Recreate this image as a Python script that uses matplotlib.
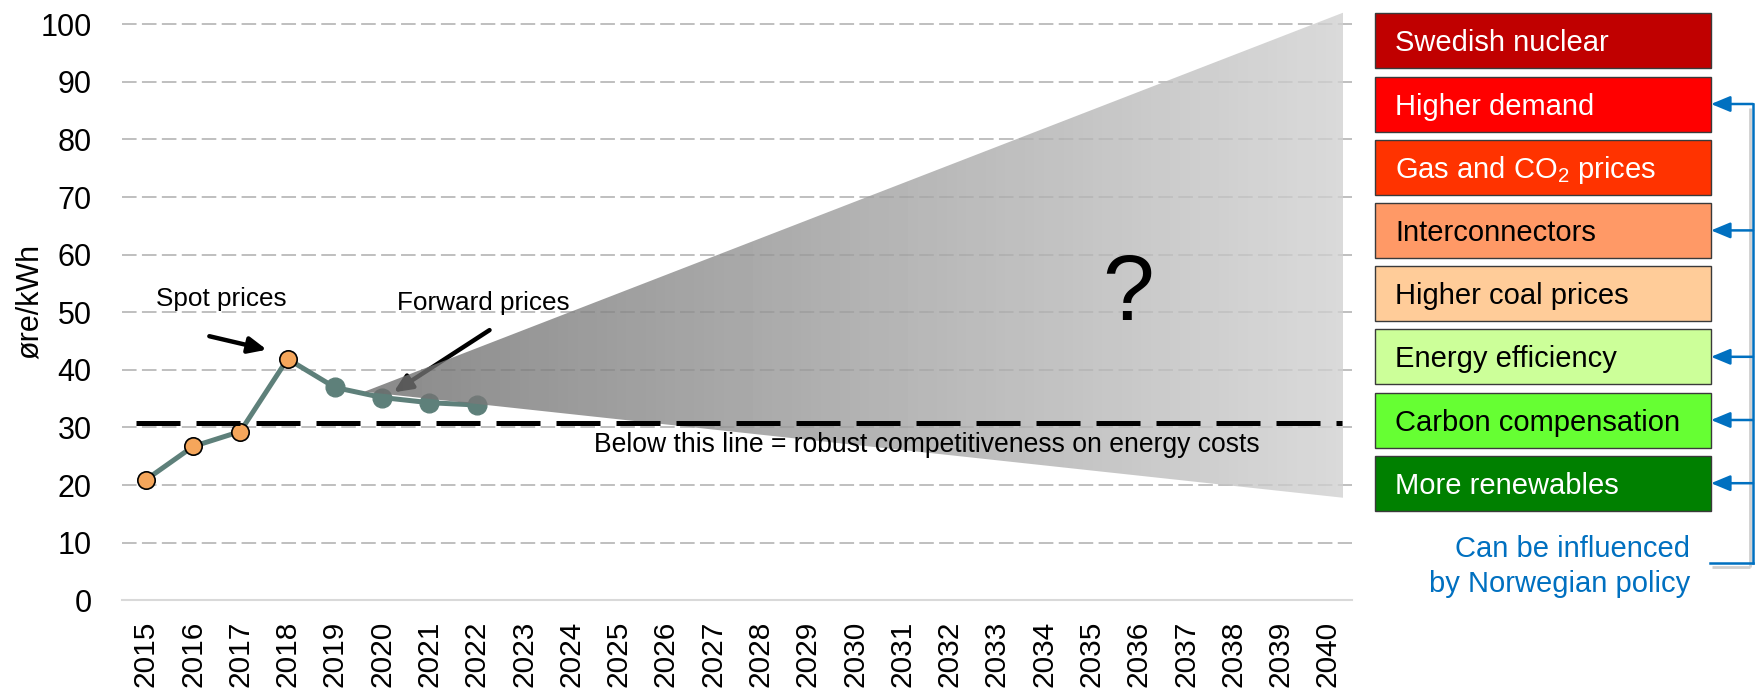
import numpy as np
import matplotlib
matplotlib.use("Agg")
import matplotlib.pyplot as plt
from matplotlib.patches import Polygon, Rectangle

plt.rcParams['font.family'] = ['Liberation Sans', 'DejaVu Sans']
plt.rcParams['mathtext.default'] = 'regular'

# ---------------- data ----------------
years = list(range(2015, 2041))
spot_years = [2015, 2016, 2017, 2018]
spot_prices = [20.9, 26.7, 29.3, 41.9]
fwd_years = [2019, 2020, 2021, 2022]
fwd_prices = [36.95, 35.2, 34.3, 33.9]
threshold = 30.7
fan_years = [2019.62, 2040.32]
fan_upper = [36.2, 102.0]
fan_lower = [36.2, 17.8]
fan_gray = [138, 218]          # apparent grey level at left / right end of fan
yticks = list(range(0, 101, 10))

factors = ['Swedish nuclear', 'Higher demand', 'Gas and CO$_2$ prices',
           'Interconnectors', 'Higher coal prices', 'Energy efficiency',
           'Carbon compensation', 'More renewables']
factor_colors = ['#C00000', '#FF0000', '#FF3300', '#FF9966',
                 '#FFCC99', '#CCFF99', '#66FF33', '#008000']
factor_text_colors = ['white', 'white', 'white', 'black',
                      'black', 'black', 'black', 'white']
policy_influenced = [False, True, False, True, False, True, True, True]

LINE = '#5E807A'
ORANGE = '#F5A65B'
BLUE = '#0070C0'

# ---------------- figure ----------------
W, H = 1758, 691
fig = plt.figure(figsize=(W / 100, H / 100), dpi=100)
px_per_unit = (600.3 - 24.2) / 100
YTOP = 104
ax = fig.add_axes([122.1 / W, 1 - 600.3 / H, (1351.6 - 122.1) / W, px_per_unit * YTOP / H])

for v in yticks[1:]:
    ax.axhline(v, color='#BFBFBF', lw=1.4, ls=(0, (7.5, 2.75)), zorder=1)

all_years = spot_years + fwd_years
all_prices = spot_prices + fwd_prices
ax.plot(all_years, all_prices, color=LINE, lw=3.6, zorder=3, solid_capstyle='round')
ax.plot(fwd_years, fwd_prices, 'o', ms=13.5, color=LINE, mec=LINE, zorder=3)
ax.plot(spot_years, spot_prices, 'o', ms=12.5, mfc=ORANGE, mec='black', mew=1.2, zorder=3.5)

arrow_kw = dict(arrowstyle='-|>,head_length=0.6,head_width=0.27', mutation_scale=18,
                lw=3.2, color='black', shrinkA=0, shrinkB=0)
ax.annotate('', xy=(2017.56, 43.5), xytext=(2016.345, 45.84), arrowprops=arrow_kw, zorder=3)
ax.annotate('', xy=(2020.24, 36.1), xytext=(2022.27, 46.9), arrowprops=arrow_kw, zorder=3)

# uncertainty fan with horizontal gradient, semi-transparent
a = 0.8
grad = np.linspace(fan_gray[0], fan_gray[1], 256)
base = (grad - 255 * (1 - a)) / a
im = ax.imshow(base[None, :], extent=(fan_years[0], fan_years[1], min(fan_lower), max(fan_upper)),
               cmap='gray', vmin=0, vmax=255, alpha=a, aspect='auto',
               interpolation='bilinear', origin='lower', zorder=4)
poly = Polygon([(fan_years[0], fan_upper[0]), (fan_years[1], fan_upper[1]),
                (fan_years[1], fan_lower[1]), (fan_years[0], fan_lower[0])],
               closed=True, transform=ax.transData)
im.set_clip_path(poly)

ax.hlines(threshold, 2014.8, 2040.3, color='black', lw=3.6, linestyles=[(0, (8.8, 3.2))], zorder=5)

ax.text(2015.22, 51.1, 'Spot prices', fontsize=18.8, ha='left', va='baseline', zorder=6)
ax.text(2020.31, 50.45, 'Forward prices', fontsize=18.8, ha='left', va='baseline', zorder=6)
ax.text(2024.47, 25.8, 'Below this line = robust competitiveness on energy costs',
        fontsize=19.1, ha='left', va='baseline', zorder=6)
ax.text(2035.77, 48.7, '?', fontsize=67, ha='center', va='baseline', zorder=6)

ax.set_xlim(2014.5, 2040.5)
ax.set_ylim(0, YTOP)
ax.set_xticks(years)
ax.set_xticklabels([str(y) for y in years], rotation=90, fontsize=21.5)
ax.set_yticks(yticks)
ax.set_yticklabels([str(v) for v in yticks], fontsize=22)
ax.tick_params(axis='both', length=0)
ax.tick_params(axis='x', pad=14.9)
ax.tick_params(axis='y', pad=22.0)
for s in ['top', 'right', 'left']:
    ax.spines[s].set_visible(False)
ax.spines['bottom'].set_color('#D9D9D9')
ax.spines['bottom'].set_linewidth(1.5)
ax.patch.set_alpha(0)

# ---------------- overlay (pixel coordinates) ----------------
ov = fig.add_axes([0, 0, 1, 1])
ov.set_xlim(0, W)
ov.set_ylim(H, 0)
ov.axis('off')

ov.text(29.5, 301.5, 'øre/kWh', rotation=90, fontsize=22, ha='center', va='center')

x0, x1 = 1375, 1711
top0, step, bh = 13.3, 63.2, 55
for i, (lab, fc, tc) in enumerate(zip(factors, factor_colors, factor_text_colors)):
    y0 = top0 + i * step
    ov.add_patch(Rectangle((x0, y0), x1 - x0, bh, fc=fc, ec='#3A3A3A', lw=1.0))
    ov.text(1395, y0 + bh / 2 + 10.6, lab, color=tc, fontsize=21, ha='left', va='baseline')

bx = 1753
ybot = 562.7
centers = [top0 + i * step + bh / 2 for i, p in enumerate(policy_influenced) if p]
# shadow
ov.plot([bx - 3, bx - 3], [centers[0] + 4, ybot + 4], color='#CFCFCF', lw=2, solid_capstyle='butt')
ov.plot([1712, bx - 3], [ybot + 4, ybot + 4], color='#CFCFCF', lw=2, solid_capstyle='butt')
ov.plot([bx, bx], [centers[0], ybot], color=BLUE, lw=1.8, solid_capstyle='projecting')
ov.plot([1710, bx], [ybot, ybot], color=BLUE, lw=1.8, solid_capstyle='projecting')
for yc in centers:
    ov.annotate('', xy=(x1, yc), xytext=(bx, yc),
                arrowprops=dict(arrowstyle='-|>,head_length=0.58,head_width=0.24', mutation_scale=20,
                                color=BLUE, lw=1.8, shrinkA=0, shrinkB=0))

ov.text(1690, 556.7, 'Can be influenced', color=BLUE, fontsize=21, ha='right', va='baseline')
ov.text(1690, 592.3, 'by Norwegian policy', color=BLUE, fontsize=21, ha='right', va='baseline')

fig.savefig('out.png', dpi=100)
